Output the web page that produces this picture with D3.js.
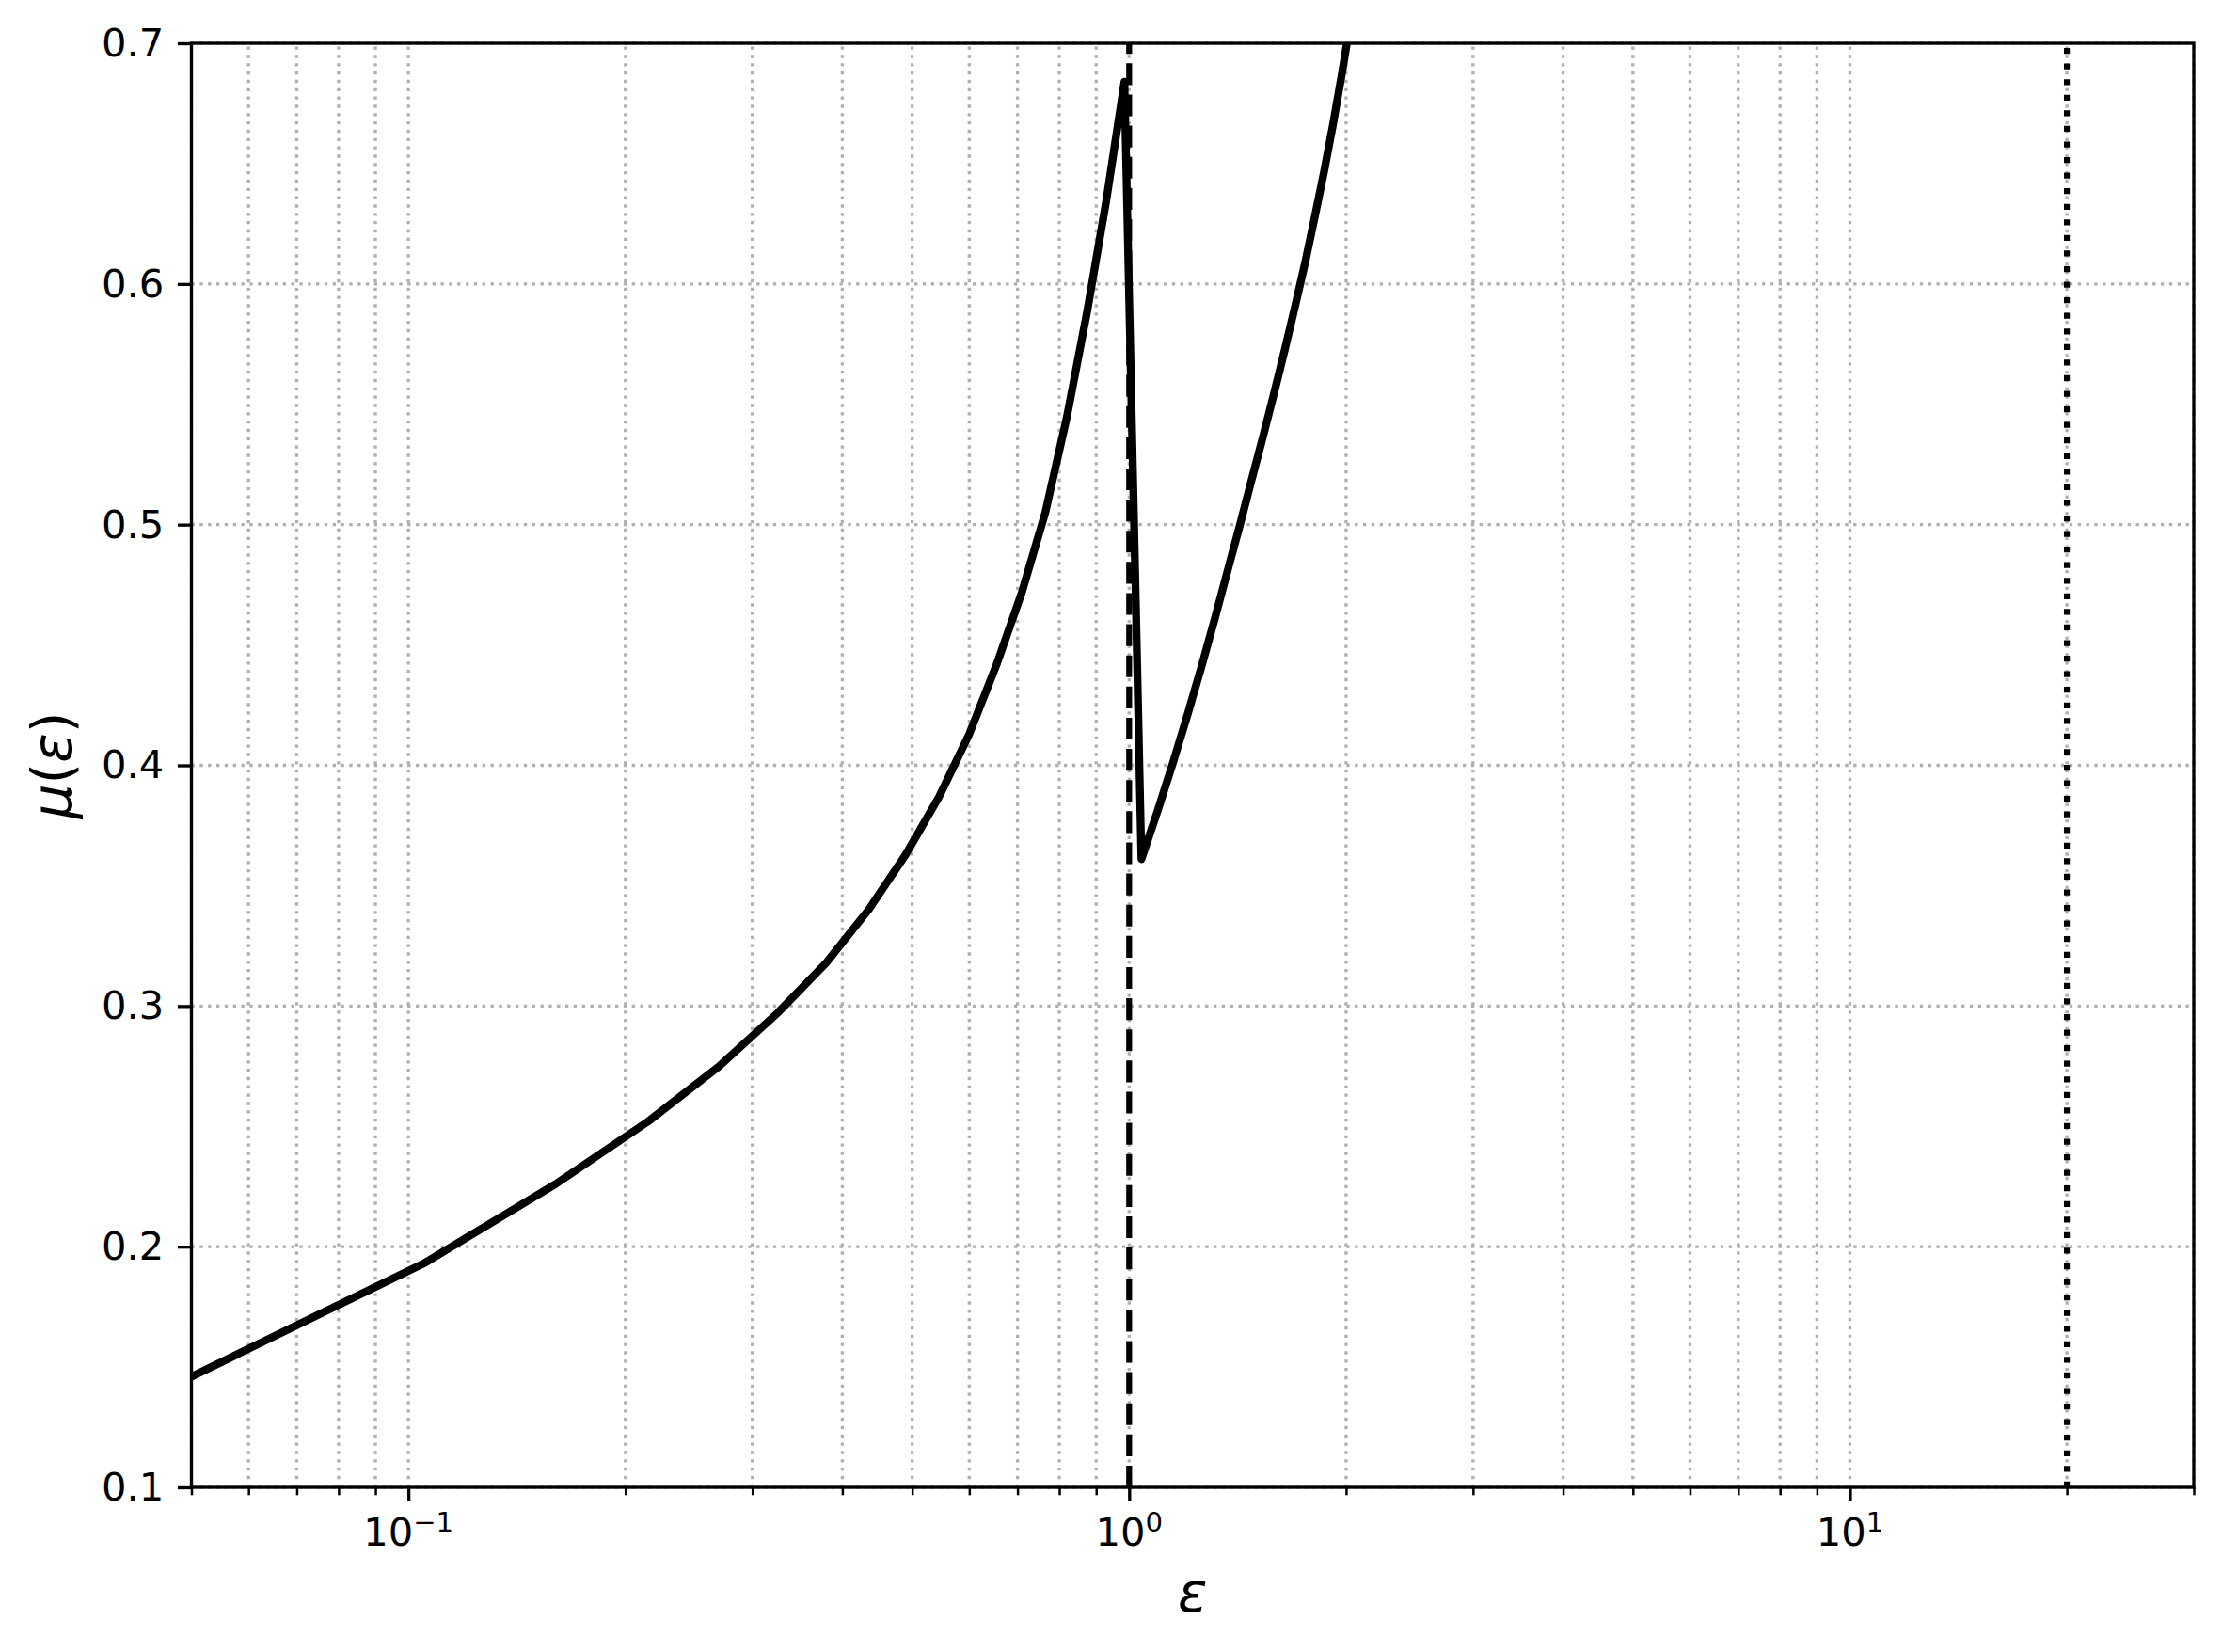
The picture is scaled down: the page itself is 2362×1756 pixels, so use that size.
<!DOCTYPE html>
<html>
<head>
<meta charset="utf-8">
<script src="https://cdn.jsdelivr.net/npm/d3@7"></script>
<style>
  body { margin: 0; background: #fff; }
  text { font-family: "DejaVu Sans", sans-serif; fill: #000; }
</style>
</head>
<body>
<svg id="chart" width="2362" height="1756"></svg>
<script>
const eps = [0.05, 0.105, 0.16, 0.215, 0.27, 0.325, 0.38, 0.435, 0.49, 0.545,
             0.60, 0.655, 0.71, 0.765, 0.82, 0.875, 0.93, 0.985,
             1.04, 1.095, 1.15, 1.205, 1.26, 1.315, 1.37, 1.425, 1.48, 1.535,
             1.59, 1.645, 1.70, 1.755, 1.81, 1.865, 1.92, 1.975, 2.03];
const mu = [0.146, 0.193, 0.226, 0.252, 0.275, 0.297, 0.318, 0.340, 0.363, 0.387,
            0.413, 0.442, 0.472, 0.505, 0.545, 0.589, 0.635, 0.684,
            0.361, 0.381, 0.401, 0.421, 0.441, 0.461, 0.481, 0.500, 0.519, 0.537,
            0.555, 0.573, 0.591, 0.609, 0.628, 0.647, 0.667, 0.688, 0.710];

const dashedAt = 1;
const dottedAt = 20;

const yTicks = [0.1, 0.2, 0.3, 0.4, 0.5, 0.6, 0.7];
const xMajor = [0.1, 1, 10];
const xExp = ["\u22121", "0", "1"];
const xMinor = [0.05, 0.06, 0.07, 0.08, 0.09, 0.2, 0.3, 0.4, 0.5, 0.6, 0.7, 0.8, 0.9,
                2, 3, 4, 5, 6, 7, 8, 9, 20, 30];

const pt = 300 / 72;
const L = 203.5, R = 2332, T = 46, B = 1581;

const svg = d3.select("#chart");
svg.append("rect").attr("width", 2362).attr("height", 1756).attr("fill", "#fff");

const x = d3.scaleLog().domain([0.05, 30]).range([L, R]);
const y = d3.scaleLinear().domain([0.1, 0.7]).range([B, T]);

svg.append("clipPath").attr("id", "plot")
  .append("rect").attr("x", L).attr("y", T).attr("width", R - L).attr("height", B - T);

// grid, both major and minor
let grid = svg.append("g")
  .attr("stroke", "#b0b0b0")
  .attr("stroke-width", 0.8 * pt)
  .attr("stroke-dasharray", `${0.8 * pt},${1.32 * pt}`)
  .attr("fill", "none");

grid.selectAll(".vg").data(xMajor.concat(xMinor)).join("line")
  .attr("x1", d => x(d)).attr("x2", d => x(d))
  .attr("y1", B).attr("y2", T);

grid.selectAll(".hg").data(yTicks).join("line")
  .attr("x1", L).attr("x2", R)
  .attr("y1", d => y(d)).attr("y2", d => y(d));

let plot = svg.append("g").attr("clip-path", "url(#plot)");

const line = d3.line().x(d => x(d[0])).y(d => y(d[1]));

plot.append("path")
  .datum(eps.map((e, i) => [e, mu[i]]))
  .attr("d", line)
  .attr("fill", "none")
  .attr("stroke", "#000")
  .attr("stroke-width", 2 * pt)
  .attr("stroke-linejoin", "round")
  .attr("stroke-linecap", "square");

plot.append("line")
  .attr("x1", x(dashedAt)).attr("x2", x(dashedAt))
  .attr("y1", B).attr("y2", T)
  .attr("stroke", "#000")
  .attr("stroke-width", 1.5 * pt)
  .attr("stroke-dasharray", `${5.55 * pt},${2.4 * pt}`);

plot.append("line")
  .attr("x1", x(dottedAt)).attr("x2", x(dottedAt))
  .attr("y1", B).attr("y2", T)
  .attr("stroke", "#000")
  .attr("stroke-width", 1.5 * pt)
  .attr("stroke-dasharray", `${1.5 * pt},${2.475 * pt}`);

// spines
svg.append("rect")
  .attr("x", L).attr("y", T).attr("width", R - L).attr("height", B - T)
  .attr("fill", "none").attr("stroke", "#000").attr("stroke-width", 0.8 * pt)
  .attr("stroke-linejoin", "miter");

// y axis
let yAxis = svg.append("g").attr("transform", `translate(${L},0)`)
  .call(d3.axisLeft(y).tickValues(yTicks).tickFormat(d3.format(".1f"))
    .tickSize(3.5 * pt).tickPadding(3.5 * pt));
yAxis.select(".domain").remove();
yAxis.selectAll("line").attr("stroke-width", 0.8 * pt);
yAxis.selectAll("text").attr("font-size", 10 * pt).attr("font-family", "DejaVu Sans");

// x axis, minor ticks then major ticks
let xMinorAxis = svg.append("g").attr("transform", `translate(0,${B})`)
  .call(d3.axisBottom(x).tickValues(xMinor).tickFormat("").tickSize(2 * pt));
xMinorAxis.select(".domain").remove();
xMinorAxis.selectAll("line").attr("stroke-width", 0.6 * pt);

let xMajorAxis = svg.append("g").attr("transform", `translate(0,${B})`)
  .call(d3.axisBottom(x).tickValues(xMajor).tickFormat("").tickSize(3.5 * pt));
xMajorAxis.select(".domain").remove();
xMajorAxis.selectAll("line").attr("stroke-width", 0.8 * pt);

let xl = svg.append("g").selectAll("text").data(xMajor).join("text")
  .attr("x", d => x(d))
  .attr("y", 1643)
  .attr("text-anchor", "middle")
  .attr("font-size", 10 * pt);
xl.append("tspan").text("10");
xl.append("tspan")
  .attr("font-size", 7 * pt)
  .attr("dy", -15)
  .text((d, i) => xExp[i]);

// axis labels
svg.append("text")
  .attr("x", (L + R) / 2).attr("y", 1713)
  .attr("text-anchor", "middle")
  .attr("font-size", 14 * pt)
  .attr("font-style", "italic")
  .text("\u03b5");

let yl = svg.append("text")
  .attr("transform", `translate(76,${(T + B) / 2}) rotate(-90)`)
  .attr("text-anchor", "middle")
  .attr("font-size", 14 * pt);
yl.append("tspan").attr("font-style", "italic").text("\u03bc");
yl.append("tspan").text("(");
yl.append("tspan").attr("font-style", "italic").text("\u03b5");
yl.append("tspan").text(")");
</script>
</body>
</html>
